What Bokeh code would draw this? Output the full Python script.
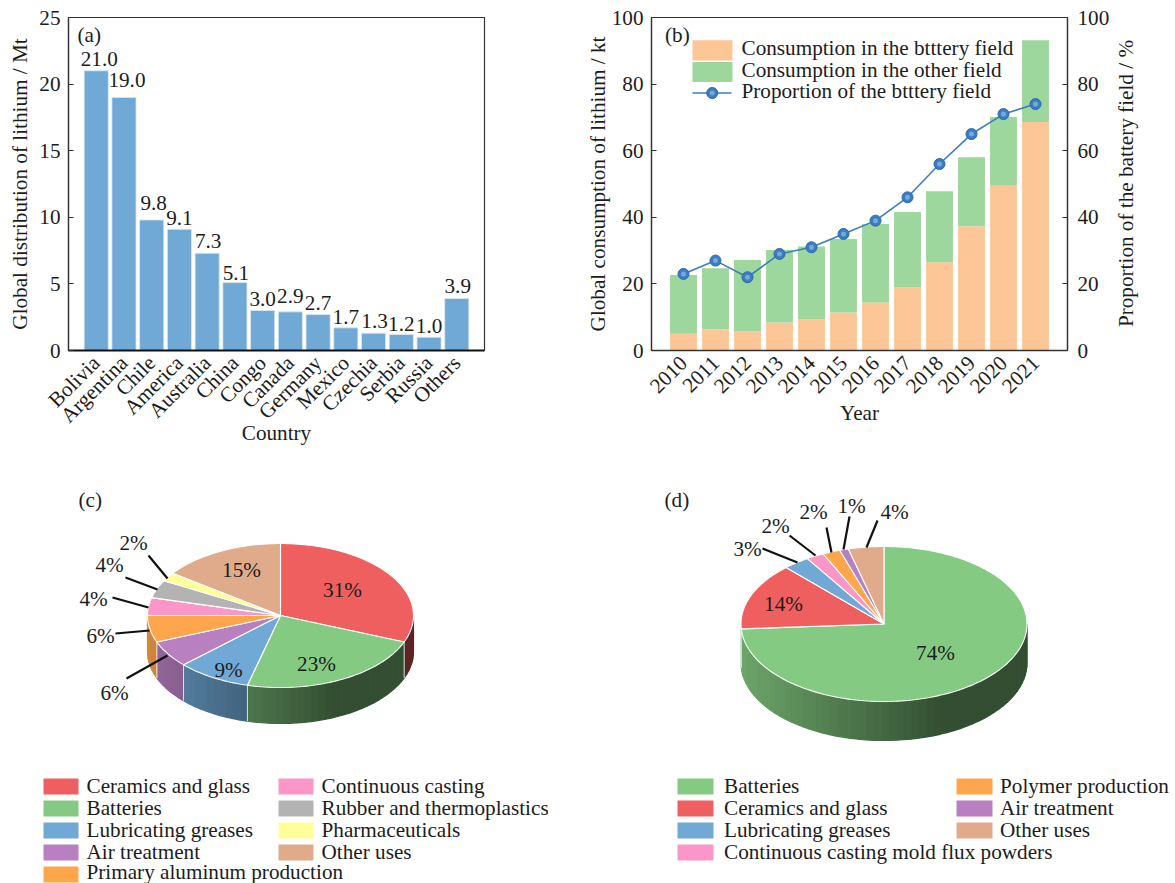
import math
from bokeh.embed import file_html
from bokeh.resources import INLINE
from bokeh.plotting import figure
from bokeh.layouts import column, row
from bokeh.models import (ColumnDataSource, FactorRange, Range1d, LinearAxis, FixedTicker)
from bokeh.core.properties import value

# ---------- data ----------
countries = ["Bolivia", "Argentina", "Chile", "America", "Australia", "China", "Congo",
             "Canada", "Germany", "Mexico", "Czechia", "Serbia", "Russia", "Others"]
lithium_mt = [21.0, 19.0, 9.8, 9.1, 7.3, 5.1, 3.0, 2.9, 2.7, 1.7, 1.3, 1.2, 1.0, 3.9]

years = ["2010", "2011", "2012", "2013", "2014", "2015", "2016", "2017", "2018", "2019", "2020", "2021"]
battery_kt = [5.0, 6.4, 5.7, 8.4, 9.4, 11.4, 14.4, 19.0, 26.5, 37.3, 49.5, 68.6]
other_kt = [17.7, 18.3, 21.5, 21.8, 21.8, 22.1, 23.6, 22.6, 21.3, 20.7, 20.6, 24.6]
battery_pct = [23, 27, 22, 29, 31, 35, 39, 46, 56, 65, 71, 74]

c_names = ["Ceramics and glass", "Batteries", "Lubricating greases", "Air treatment",
           "Primary aluminum production", "Continuous casting", "Rubber and thermoplastics",
           "Pharmaceuticals", "Other uses"]
c_values = [31, 23, 9, 6, 6, 4, 4, 2, 15]

d_names = ["Batteries", "Ceramics and glass", "Lubricating greases",
           "Continuous casting mold flux powders", "Polymer production", "Air treatment", "Other uses"]
d_values = [74, 14, 3, 2, 2, 1, 4]

# ---------- style ----------
FONT = "Liberation Serif"
FS = "21.2px"
INK = "#1c1c1c"
RED, GREEN, BLUE, PURPLE = "#F05F5F", "#85CA82", "#70A8D6", "#B880C0"
ORANGE, PINK, GREY, YELLOW, BROWN = "#FFA64D", "#FB96C8", "#B3B3B3", "#FFFF99", "#E0AB8B"
c_colors = [RED, GREEN, BLUE, PURPLE, ORANGE, PINK, GREY, YELLOW, BROWN]
d_colors = [GREEN, RED, BLUE, PINK, ORANGE, PURPLE, BROWN]

# hand placement of the value labels above the bars of (a), in pixels
label_dx = [3, 3, 2, 0, 1, 1, 0, 0, 0, 0, 1, 0, 0, 1]
label_dy = [-5, -10, -10, -4, -5, -3, -5, -9, -5, -4, -5, -4, -4, -6]


def style_axis(ax):
    ax.axis_label_text_font = FONT
    ax.axis_label_text_font_size = FS
    ax.axis_label_text_font_style = "normal"
    ax.axis_label_text_color = INK
    ax.major_label_text_font = FONT
    ax.major_label_text_font_size = FS
    ax.major_label_text_color = INK
    ax.axis_line_color = "#333333"
    ax.axis_line_width = 1.3
    ax.major_tick_line_color = "#333333"
    ax.major_tick_line_width = 1.2
    ax.minor_tick_line_color = None


def style_cart(p):
    p.grid.visible = False
    p.outline_line_color = "#333333"
    p.outline_line_width = 1.2
    p.background_fill_color = "white"
    p.border_fill_color = "white"
    for ax in p.yaxis:
        style_axis(ax)
        ax.major_tick_in = 5
        ax.major_tick_out = 0
        ax.major_label_standoff = 8
    for ax in p.xaxis:
        style_axis(ax)
        ax.major_tick_line_color = None
        ax.major_label_orientation = math.pi / 4
        ax.major_label_standoff = 3


def txt(p, x, y, s, align="left", size=FS, **kw):
    p.text([x], [y], text=[s], text_font=value(FONT), text_font_size=value(size), text_color=INK,
           text_align=align, text_baseline="middle", **kw)


# Page-pixel x converted to the synthetic coordinates of the factor ranges
ax_px = lambda x: (x - 68) / (416 / 15) - 0.5
bx_px = lambda x: (x - 651) / (416 / 13) - 0.5

# ---------- (a) ----------
pa = figure(width=548, height=470, output_backend="svg", toolbar_location=None,
            x_range=FactorRange(*countries, range_padding=0.5, range_padding_units="absolute"),
            y_range=Range1d(0, 25), min_border_left=68, min_border_right=64,
            min_border_top=17, min_border_bottom=120)
pa.extra_y_ranges["px"] = Range1d(350, 17)
srca = ColumnDataSource(dict(c=countries, v=lithium_mt, t=["%.1f" % v for v in lithium_mt],
                             dx=label_dx, dy=label_dy))
pa.vbar(x="c", top="v", width=0.87, source=srca, fill_color=BLUE, line_color="#DCE9F5", line_width=0.8)
pa.text(x="c", y="v", text="t", source=srca, text_font=value(FONT), text_font_size=value(FS),
        text_color=INK, text_align="center", text_baseline="bottom", x_offset="dx", y_offset="dy")
pa.xaxis.axis_label = "Country"
pa.yaxis.axis_label = "Global distribution of lithium / Mt"
pa.yaxis.ticker = FixedTicker(ticks=[0, 5, 10, 15, 20, 25])
style_cart(pa)
pa.yaxis.axis_label_standoff = 4
pa.xaxis.axis_label_standoff = -18
pa.xaxis.axis_line_color = "#111111"
pa.xaxis.axis_line_width = 2.2
txt(pa, ax_px(77), 34, "(a)", y_range_name="px")

# ---------- (b) ----------
pb = figure(width=565, height=470, output_backend="svg", toolbar_location=None,
            x_range=FactorRange(*years, range_padding=0.5, range_padding_units="absolute"),
            y_range=Range1d(0, 100), min_border_left=103, min_border_right=46,
            min_border_top=17, min_border_bottom=120)
pb.extra_y_ranges["pct"] = Range1d(0, 100)
pb.extra_y_ranges["px"] = Range1d(349.5, 16.5)
srcb = ColumnDataSource(dict(y=years, battery=battery_kt, other=other_kt, pct=battery_pct))
pb.vbar_stack(["battery", "other"], x="y", width=0.84, source=srcb,
              fill_color=["#FDC696", "#9DD79D"], line_color=None)
LINE = "#3D7EBB"
MARK, SHINE = "#3A7CBE", "#74A9DA"
pb.line(x="y", y="pct", source=srcb, y_range_name="pct", line_color=LINE, line_width=1.6)
pb.scatter(x="y", y="pct", source=srcb, y_range_name="pct", size=11, fill_color=MARK, line_color="#2C6AA8")
pb.scatter(x="y", y="pct", source=srcb, y_range_name="pct", size=5, fill_color=SHINE, line_color=None)
pb.yaxis.axis_label = "Global consumption of lithium / kt"
right = LinearAxis(y_range_name="pct")
right.ticker = FixedTicker(ticks=[0, 20, 40, 60, 80, 100])
pb.add_layout(right, "right")
pb.xaxis.axis_label = "Year"
pb.yaxis[0].ticker = FixedTicker(ticks=[0, 20, 40, 60, 80, 100])
style_cart(pb)
pb.yaxis[0].axis_label_standoff = -1
right.major_label_standoff = 10
pb.xaxis.axis_label_standoff = -1
txt(pb, bx_px(664.5), 34, "(b)", y_range_name="px")
pb.quad(left=[bx_px(692)], right=[bx_px(732)], top=[39.3], bottom=[59.5], fill_color="#FDC696", line_color=None,
        y_range_name="px")
pb.quad(left=[bx_px(692)], right=[bx_px(732)], top=[61], bottom=[81], fill_color="#9DD79D", line_color=None,
        y_range_name="px")
pb.line([bx_px(692), bx_px(731)], [92, 92], line_color=LINE, line_width=1.6, y_range_name="px")
pb.scatter([bx_px(711.7)], [92], size=11, fill_color=MARK, line_color="#2C6AA8", y_range_name="px")
pb.scatter([bx_px(711.7)], [92], size=5, fill_color=SHINE, line_color=None, y_range_name="px")
txt(pb, bx_px(741), 47, "Consumption in the btttery field", y_range_name="px")
txt(pb, bx_px(741), 69, "Consumption in the other field", y_range_name="px")
txt(pb, bx_px(741), 90, "Proportion of the btttery field", y_range_name="px")

# strip to the right of (b) that carries the label of its right-hand axis;
# sibling figures in a row align their frames, so it keeps the same vertical borders
pr = figure(width=62, height=470, output_backend="svg", toolbar_location=None,
            x_range=Range1d(1113, 1175), y_range=Range1d(350, 17), min_border_left=0, min_border_right=0,
            min_border_top=17, min_border_bottom=120,
            x_axis_type=None, y_axis_type=None, outline_line_color=None)
pr.grid.visible = False
txt(pr, 1125.5, 183, "Proportion of the battery field / %", align="center", angle=math.pi / 2)


# ---------- pies ----------
def shade(color, f):
    r, g, b = int(color[1:3], 16), int(color[3:5], 16), int(color[5:7], 16)
    return "#%02x%02x%02x" % (int(r * f), int(g * f), int(b * f))


def draw_pie(p, vals, colors, cx, cy, rx, ry, depth):
    total = sum(vals)
    edges = [0.0]
    for v in vals:
        edges.append(edges[-1] + 360.0 * v / total)
    px = lambda a: cx + rx * math.sin(math.radians(a))
    py = lambda a: cy - ry * math.cos(math.radians(a))
    # walls: only the front half (90..270 degrees clockwise from the top) is visible
    xs, ys, fc = [], [], []
    seps = []
    for i, col in enumerate(colors):
        a0, a1 = max(edges[i], 90.0), min(edges[i + 1], 270.0)
        if a1 <= a0 or abs(px(a1) - px(a0)) < 1:
            continue
        n = max(1, int((a1 - a0) / 3))
        for k in range(n):
            t0, t1 = a0 + (a1 - a0) * k / n, a0 + (a1 - a0) * (k + 1) / n
            xs.append([px(t0), px(t1), px(t1), px(t0)])
            ys.append([py(t0), py(t1), py(t1) + depth, py(t0) + depth])
            u = ((px(t0) + px(t1)) / 2 - (cx - rx)) / (2 * rx)
            f = max(0.39, 0.82 - 0.43 * u / 0.7)
            fc.append(shade(col, f))
        if edges[i + 1] < 270.0:
            seps.append(edges[i + 1])
    p.patches(xs, ys, fill_color=fc, line_color=fc, line_width=1.2)
    for a in seps:
        if a > 90:
            p.line([px(a), px(a)], [py(a), py(a) + depth], line_color="white", line_width=1, line_alpha=0.8)
    # top faces
    for i, col in enumerate(colors):
        a0, a1 = edges[i], edges[i + 1]
        n = max(2, int((a1 - a0) / 1.5))
        ax = [cx] + [px(a0 + (a1 - a0) * k / n) for k in range(n + 1)]
        ay = [cy] + [py(a0 + (a1 - a0) * k / n) for k in range(n + 1)]
        p.patch(ax, ay, fill_color=col, line_color="white", line_width=1.1)


def pie_fig(width, height, x0, y0):
    p = figure(width=width, height=height, output_backend="svg", toolbar_location=None,
               x_range=Range1d(x0, x0 + width), y_range=Range1d(y0 + height, y0),
               min_border=0, x_axis_type=None, y_axis_type=None, outline_line_color=None)
    p.grid.visible = False
    return p


def legend(p, names, colors, sx, tx, rows_y=(786, 808, 830, 852, 874), w=35):
    for (n, col, y) in zip(names, colors, rows_y):
        p.quad(left=[sx], right=[sx + w], top=[y - 8], bottom=[y + 8], fill_color=col, line_color=None)
        txt(p, tx, min(y - 0.5, 871), n)


# (c)
pc = pie_fig(548, 413, 0, 470)
draw_pie(pc, c_values, c_colors, 280, 615, 133, 72, 36)
txt(pc, 78, 499, "(c)")
c_labels = [(342, 589), (316, 663), (228, 669), (114, 692), (100, 635), (93, 598), (109, 564), (133, 542), (241, 569)]
c_leaders = [((167, 655), (126, 678)), ((149, 630), (115, 633)), ((148, 607), (112, 597)),
             ((157, 589), (125, 577)), ((167, 578), (148, 555))]
for a, b in c_leaders:
    pc.line([a[0], b[0]], [a[1], b[1]], line_color="#111111", line_width=2.2)
for v, (x, y) in zip(c_values, c_labels):
    txt(pc, x, y, "%d%%" % v, align="center")
legend(pc, [c_names[i] for i in (0, 1, 2, 3, 4)], [c_colors[i] for i in (0, 1, 2, 3, 4)], 43, 86)
legend(pc, [c_names[i] for i in (5, 6, 7, 8)], [c_colors[i] for i in (5, 6, 7, 8)], 278, 321)

# (d)
pd_ = pie_fig(627, 413, 548, 470)
draw_pie(pd_, d_values, d_colors, 883.5, 623.5, 143, 77.5, 39)
txt(pd_, 664, 499, "(d)")
d_labels = [(935, 652), (783, 603), (747, 548), (775, 525), (813, 511), (851, 505), (894, 511)]
d_leaders = [((797, 562), (762, 548)), ((815, 555), (789, 535)), ((831, 552), (826, 527)),
             ((843, 549), (849, 516)), ((866, 547), (877, 520))]
for a, b in d_leaders:
    pd_.line([a[0], b[0]], [a[1], b[1]], line_color="#111111", line_width=2.2)
for v, (x, y) in zip(d_values, d_labels):
    txt(pd_, x, y, "%d%%" % v, align="center")
legend(pd_, [d_names[i] for i in (0, 1, 2, 3)], [d_colors[i] for i in (0, 1, 2, 3)], 677, 723.5, w=36)
legend(pd_, [d_names[i] for i in (4, 5, 6)], [d_colors[i] for i in (4, 5, 6)], 956, 999.5, w=36)

layout = column(row(pa, pb, pr, spacing=0), row(pc, pd_, spacing=0), spacing=0)
open("out.html", "w").write(file_html(layout, INLINE))
